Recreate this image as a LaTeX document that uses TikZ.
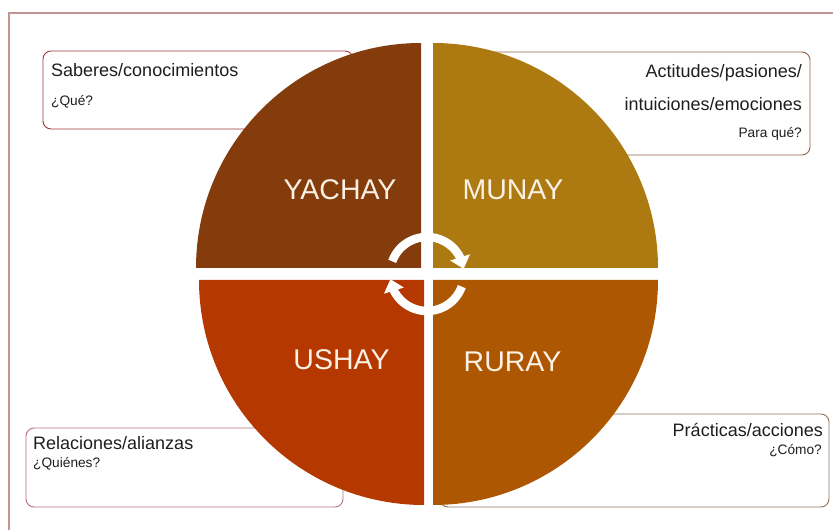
\documentclass[tikz,border=0pt]{standalone}
\usepackage{fontspec}
\setmainfont{Liberation Sans}
\usepackage{tikz}
\usetikzlibrary{arrows.meta, bending}
\definecolor{yachaycol}{HTML}{843C0C}
\definecolor{munaycol}{HTML}{AD7A12}
\definecolor{ushaycol}{HTML}{B43800}
\definecolor{huraycol}{HTML}{AE5703}
\definecolor{redline}{HTML}{A0343C}
\definecolor{brownline}{HTML}{8E6248}
\definecolor{roseline}{HTML}{B87078}
\definecolor{greyline}{HTML}{8C7262}
\definecolor{framerose}{HTML}{C49494}
\definecolor{cream}{HTML}{FAF0E4}
\definecolor{inkgray}{HTML}{1E1E1E}
\tikzstyle{infobox} = [rectangle, rounded corners=8pt, line width=0.9pt, fill=white, inner sep=0pt]
\tikzstyle{heading} = [inner sep=0pt, text=inkgray, font=\fontsize{18}{21}\selectfont]
\tikzstyle{question} = [inner sep=0pt, text=inkgray, font=\fontsize{13.7}{16}\selectfont]
\tikzstyle{quadlabel} = [inner sep=0pt, anchor=base, text=cream, font=\fontsize{28.5}{32}\selectfont]
\tikzstyle{turn} = [line width=8.5pt, white, -{Triangle[width=20pt,length=12pt]}]

\begin{document}
\begin{tikzpicture}[x=1pt, y=1pt]
        \useasboundingbox (0,0) rectangle (833,530);
        \fill[white] (0,0) rectangle (833,530);
        \draw[framerose, line width=1.2pt] (9,517) rectangle (845,-15);

        \node (saberesbox) [infobox, draw=redline, minimum width=310pt, minimum height=78pt] at (198,440) {};
        \node (actitudesbox) [infobox, draw=brownline, minimum width=330pt, minimum height=103pt] at (645,426.5) {};
        \node (relacionesbox) [infobox, draw=roseline, minimum width=317pt, minimum height=79pt] at (184.5,62.5) {};
        \node (practicasbox) [infobox, draw=greyline, minimum width=389pt, minimum height=93pt] at (634.5,69.5) {};

        \fill[yachaycol] (421,262) -- ++(-225,0) arc[start angle=180, end angle=90, radius=225] -- cycle;
        \fill[munaycol] (433,262) -- ++(0,225) arc[start angle=90, end angle=0, radius=225] -- cycle;
        \fill[ushaycol] (424,250) -- ++(-225,0) arc[start angle=180, end angle=270, radius=225] -- cycle;
        \fill[huraycol] (433,250) -- ++(225,0) arc[start angle=0, end angle=-90, radius=225] -- cycle;

        \node (yachay) [quadlabel] at (340,330) {YACHAY};
        \node (munay) [quadlabel] at (513,330) {MUNAY};
        \node (ushay) [quadlabel] at (341.5,160) {USHAY};
        \node (ruray) [quadlabel] at (512.5,158) {RURAY};

        \coordinate (hub) at (427,256);
        \draw [turn] ([shift={(160:37)}]hub) arc[start angle=160, end angle=8, radius=37];
        \draw [turn] ([shift={(-20:37)}]hub) arc[start angle=-20, end angle=-172, radius=37];

        \node (saberes) [heading, anchor=base west] at (51,453) {Saberes/conocimientos};
        \node (que) [question, anchor=base west] at (51,424) {¿Qué?};
        \node (actitudes) [heading, anchor=base east] at (802,452) {Actitudes/pasiones/};
        \node (intuiciones) [heading, anchor=base east] at (802,419) {intuiciones/emociones};
        \node (paraque) [question, anchor=base east] at (802,392) {Para qué?};
        \node (relaciones) [heading, anchor=base west] at (33,80) {Relaciones/alianzas};
        \node (quienes) [question, anchor=base west] at (33,62) {¿Quiénes?};
        \node (practicas) [heading, anchor=base east] at (823,93) {Prácticas/acciones};
        \node (como) [question, anchor=base east] at (822,75) {¿Cómo?};
\end{tikzpicture}
\end{document}
